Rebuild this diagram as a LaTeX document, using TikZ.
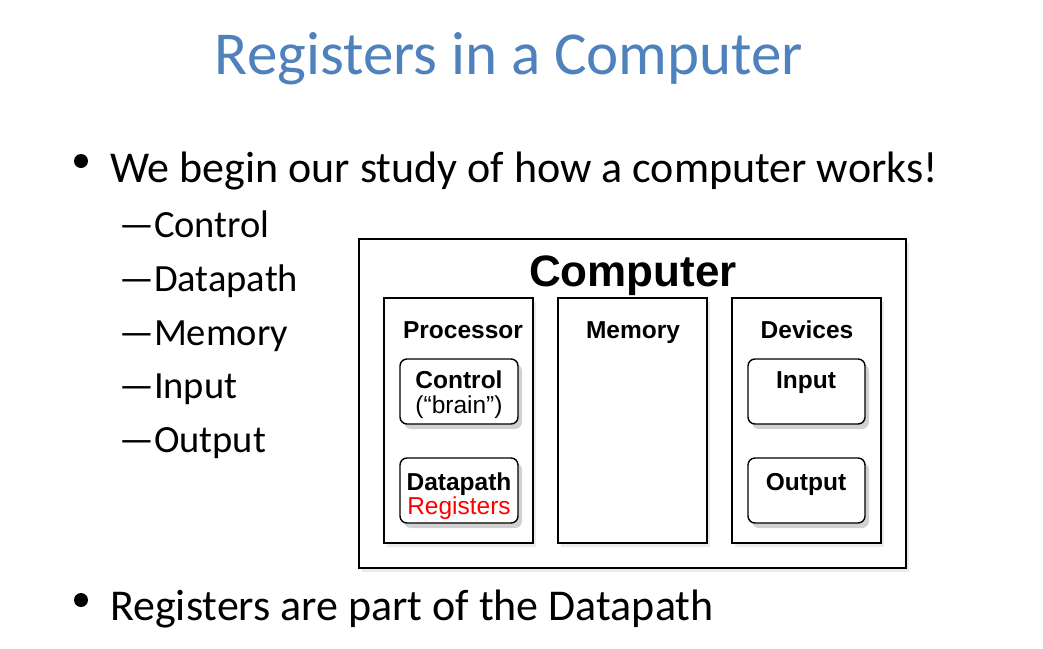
\documentclass[tikz,border=0pt]{standalone}
\usepackage{fontspec}
\setmainfont{Carlito}
\newfontfamily\arialf{Liberation Sans}
\usetikzlibrary{shadows}
\definecolor{titleblue}{HTML}{4F81BD}
\definecolor{regred}{HTML}{FF0000}
\tikzset{
  sq/.style={draw=black, line width=1.4pt, fill=white,
    drop shadow={shadow xshift=3pt, shadow yshift=-4pt, opacity=0.08, fill=black}},
  rbox/.style={draw=black, line width=1.4pt, fill=white, rounded corners=7pt,
    drop shadow={shadow xshift=4pt, shadow yshift=-5pt, opacity=0.18, fill=black}},
  lbl/.style={anchor=base, font=\arialf\bfseries\fontsize{24.5}{28}\selectfont, inner sep=0pt},
  lblr/.style={anchor=base, font=\arialf\fontsize{24.5}{28}\selectfont, inner sep=0pt},
  slide/.style={anchor=base west, inner sep=0pt},
  bdot/.style={circle, fill=black, minimum size=14pt, inner sep=0pt},
}
\begin{document}
\begin{tikzpicture}[x=1pt,y=-1pt]
\useasboundingbox (0,0) rectangle (1043,648);
% title
\node[anchor=base, inner sep=0pt, text=titleblue, font=\fontsize{61}{70}\selectfont] (title) at (509,74) {Registers in a Computer};
% bullets
\node[bdot] (b1dot) at (81,161) {};
\node[slide, font=\fontsize{44}{52}\selectfont] (b1) at (110,182) {We begin our study of how a computer works!};
\node[slide, font=\fontsize{38.5}{46}\selectfont] (s1) at (119,237) {—Control};
\node[slide, font=\fontsize{38.5}{46}\selectfont] (s2) at (119,291) {—Datapath};
\node[slide, font=\fontsize{38.5}{46}\selectfont] (s3) at (119,345) {—Memory};
\node[slide, font=\fontsize{38.5}{46}\selectfont] (s4) at (119,398) {—Input};
\node[slide, font=\fontsize{38.5}{46}\selectfont] (s5) at (119,452) {—Output};
\node[bdot] (b2dot) at (81,600) {};
\node[slide, font=\fontsize{44}{52}\selectfont] (b2) at (110,620) {Registers are part of the Datapath};
% diagram
\draw[sq] (359,239) rectangle (906,568);
\node[anchor=base, inner sep=0pt, font=\arialf\bfseries\fontsize{44}{50}\selectfont] (comp) at (633,286) {Computer};
\draw[sq] (384,298) rectangle (533,543);
\draw[sq] (558,298) rectangle (707,543);
\draw[sq] (732,298) rectangle (881,543);
\node[lbl] (proc) at (463,338) {Processor};
\node[lbl] (mem) at (633,338) {Memory};
\node[lbl] (dev) at (807,338) {Devices};
\draw[rbox] (400,359) rectangle (518,424);
\draw[rbox] (400,458) rectangle (518,523);
\draw[rbox] (748,359) rectangle (865,424);
\draw[rbox] (748,458) rectangle (865,523);
\node[lbl] (ctl) at (459,388) {Control};
\node[lblr] (brain) at (459,413) {(“brain”)};
\node[lbl] (dp) at (459,490) {Datapath};
\node[lblr, text=regred] (reg) at (459,514) {Registers};
\node[lbl] (inp) at (806,388) {Input};
\node[lbl] (outp) at (806,490) {Output};
\end{tikzpicture}
\end{document}
